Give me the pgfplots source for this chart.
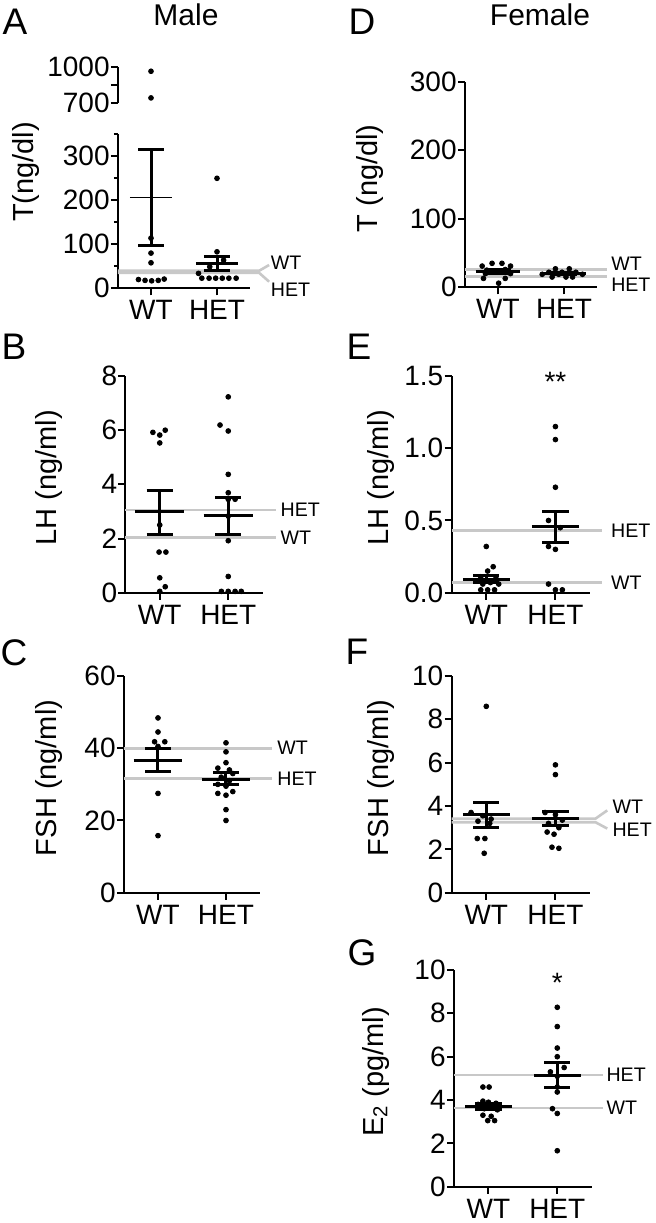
\documentclass[border=0pt]{standalone}
\usepackage{fontspec}
\setmainfont{Liberation Sans}
\usepackage{pgfplots}
\pgfplotsset{compat=1.18}
\definecolor{refgray}{RGB}{200,200,200}
\newcommand\lblfont{\fontsize{9.8}{11}\selectfont}
\newcommand\letfont{\fontsize{18.5}{20}\selectfont}
\tikzset{gl/.style={anchor=west, font=\lblfont, inner sep=0pt}}
\pgfplotsset{
  panel/.style={
    scale only axis,
    anchor=south west,
    xmin=-0.5, xmax=1.5,
    axis x line=bottom, axis y line=left,
    axis line style={-, line width=1pt},
    every tick/.style={black, line width=1pt},
    tick align=outside,
    major tick length=3.5pt,
    minor tick length=2pt,
    xtick={0,1}, xticklabels={WT,HET},
    tick label style={font=\fontsize{14}{15}\selectfont},
    yticklabel style={inner sep=0.5pt},
    xticklabel style={inner sep=1pt, yshift=-1.5pt},
    /pgf/number format/assume math mode=true,
    ylabel style={font=\fontsize{14.5}{16}\selectfont},
    clip=false,
    ymin=0,
  },
  dots/.style={only marks, mark=*, mark size=1.2pt, black},
  meanl/.style={black, line width=1.5pt},
  refl/.style={refgray, line width=1.3pt},
}
\begin{document}
\begin{tikzpicture}
\path[use as bounding box] (0,0) rectangle (328pt,-611.5pt);
\node[font=\fontsize{15}{17}\selectfont] at (93pt,-7.5pt) {Male};
\node[font=\fontsize{15}{17}\selectfont] at (270pt,-7.5pt) {Female};
\node[font=\letfont] at (7.5pt,-11pt) {A};
\node[font=\letfont] at (181pt,-11pt) {D};
\node[font=\letfont] at (7pt,-173.5pt) {B};
\node[font=\letfont] at (179.5pt,-173.5pt) {E};
\node[font=\letfont] at (7pt,-326.5pt) {C};
\node[font=\letfont] at (178.5pt,-326pt) {F};
\node[font=\letfont] at (181pt,-476.5pt) {G};

% ---------- A upper (broken axis) ----------
\begin{axis}[panel, at={(59pt,-51.65pt)}, width=66pt, height=18pt,
  ymin=700, ymax=1000, ytick={700,850,1000}, yticklabels={700,,1000},
  axis x line=none]
\addplot[dots] coordinates {(0,967) (0,745)};
\end{axis}

% ---------- A lower ----------
\begin{axis}[panel, at={(59pt,-144.15pt)}, width=66pt, height=77pt,
  ymax=350, ytick={0,100,200,300}, minor ytick={50,150,250,350},
  ylabel={T(ng/dl)}, ylabel style={at={(axis description cs:-0.7,0.755)}, anchor=center}]
\addplot[refl] coordinates {(-0.5,40) (1.64,40) (1.79,53)};
\addplot[refl] coordinates {(-0.5,35) (1.64,35) (1.79,15)};
\node[gl] at (axis cs:1.81,57) {WT};
\node[gl] at (axis cs:1.81,-4) {HET};
\addplot[dots] coordinates {(0,114) (0,80) (0,58) (-0.19,20) (-0.09,18) (0.01,17) (0.11,18) (0.2,21)};
\addplot[dots] coordinates {(1,250) (1,83) (1.1,64) (0.89,49) (0.72,34) (0.77,23) (0.88,23) (0.98,23) (1.08,23) (1.18,23) (1.29,23)};
\addplot[black, line width=0.8pt] coordinates {(-0.32,206) (0.32,206)};
\addplot[meanl] coordinates {(0,97) (0,316)};
\addplot[meanl] coordinates {(-0.19,316) (0.19,316)};
\addplot[meanl] coordinates {(-0.19,97) (0.19,97)};
\addplot[meanl] coordinates {(0.68,57) (1.32,57)};
\addplot[meanl] coordinates {(1,41) (1,72)};
\addplot[meanl] coordinates {(0.8,72) (1.2,72)};
\addplot[meanl] coordinates {(0.8,41) (1.2,41)};
\end{axis}

% ---------- D ----------
\begin{axis}[panel, at={(232.5pt,-143.65pt)}, width=66pt, height=102.8pt,
  ymax=300, ytick={0,100,200,300},
  ylabel={T (ng/dl)}, ylabel style={at={(axis description cs:-0.72,0.53)}, anchor=center}]
\addplot[refl] coordinates {(-0.5,26) (1.65,26)};
\addplot[refl] coordinates {(-0.5,15.5) (1.65,15.5)};
\node[gl] at (axis cs:1.71,35) {WT};
\node[gl] at (axis cs:1.71,3) {HET};
\addplot[dots] coordinates {(-0.09,35) (0.06,35) (-0.24,31) (0.19,31) (-0.17,25) (-0.04,24) (0.11,26) (-0.19,20) (0.19,20) (-0.22,13) (0.11,13) (0.01,6)};
\addplot[dots] coordinates {(0.87,27) (1.08,27) (0.77,22) (0.97,22) (1.18,22) (0.67,19) (0.92,19) (1.28,19) (0.82,15) (1.03,15) (1.13,15)};
\addplot[meanl] coordinates {(-0.34,23.25) (0.34,23.25)};
\addplot[meanl] coordinates {(0,20.5) (0,26)};
\addplot[meanl] coordinates {(-0.19,26) (0.19,26)};
\addplot[meanl] coordinates {(-0.19,20.5) (0.19,20.5)};
\addplot[meanl] coordinates {(0.66,19.5) (1.34,19.5)};
\addplot[meanl] coordinates {(1,18) (1,21)};
\addplot[meanl] coordinates {(0.81,21) (1.19,21)};
\addplot[meanl] coordinates {(0.81,18) (1.19,18)};
\end{axis}

% ---------- B ----------
\begin{axis}[panel, at={(62.75pt,-296.35pt)}, width=68.5pt, height=108.35pt,
  ymax=8, ytick={0,2,4,6,8},
  ylabel={LH (ng/ml)}, ylabel style={at={(axis description cs:-0.56,0.53)}, anchor=center}]
\addplot[refl] coordinates {(-0.5,3.05) (1.69,3.05)};
\addplot[refl] coordinates {(-0.5,2.03) (1.69,2.03)};
\node[gl] at (axis cs:1.76,3.05) {HET};
\node[gl] at (axis cs:1.76,2.03) {WT};
\addplot[dots] coordinates {(-0.1,5.92) (0,5.82) (0.08,6.0) (0,5.53) (0,2.5) (-0.01,1.5) (0.09,1.5) (0,0.55) (0.08,0.22) (0,0.05)};
\addplot[dots] coordinates {(1,7.23) (0.88,6.19) (1,5.97) (1,4.37) (1,3.69) (1.1,3.45) (1,3.45) (1,2.83) (1,1.92) (1,0.6) (0.9,0.05) (1,0.05) (1.1,0.05) (1.19,0.05)};
\addplot[meanl] coordinates {(-0.36,2.98) (0.36,2.98)};
\addplot[meanl] coordinates {(0,2.15) (0,3.77)};
\addplot[meanl] coordinates {(-0.19,3.77) (0.19,3.77)};
\addplot[meanl] coordinates {(-0.19,2.15) (0.19,2.15)};
\addplot[meanl] coordinates {(0.64,2.84) (1.36,2.84)};
\addplot[meanl] coordinates {(1,2.15) (1,3.52)};
\addplot[meanl] coordinates {(0.81,3.52) (1.19,3.52)};
\addplot[meanl] coordinates {(0.81,2.15) (1.19,2.15)};
\end{axis}

% ---------- E ----------
\begin{axis}[panel, at={(225.85pt,-296.35pt)}, width=69.15pt, height=108.35pt,
  ymax=1.5, ytick={0,0.5,1,1.5},
  yticklabel style={/pgf/number format/.cd, fixed, fixed zerofill, precision=1},
  ylabel={LH (ng/ml)}, ylabel style={at={(axis description cs:-0.51,0.53)}, anchor=center}]
\addplot[refl] coordinates {(-0.5,0.43) (1.67,0.43)};
\addplot[refl] coordinates {(-0.5,0.072) (1.67,0.072)};
\node[gl] at (axis cs:1.8,0.43) {HET};
\node[gl] at (axis cs:1.8,0.072) {WT};
\addplot[dots] coordinates {(0,0.32) (0.1,0.18) (0.02,0.15) (-0.08,0.11) (0.14,0.10) (-0.15,0.08) (0.06,0.07) (-0.05,0.06) (0.18,0.06) (-0.08,0.02) (0.02,0.02) (0.12,0.02)};
\addplot[dots] coordinates {(1,1.15) (1,1.06) (1,0.73) (0.9,0.5) (1.07,0.45) (0.9,0.32) (1,0.3) (0.9,0.06) (1,0.02) (1.1,0.02)};
\addplot[meanl] coordinates {(-0.34,0.09) (0.34,0.09)};
\addplot[meanl] coordinates {(0,0.07) (0,0.117)};
\addplot[meanl] coordinates {(-0.19,0.117) (0.19,0.117)};
\addplot[meanl] coordinates {(-0.19,0.07) (0.19,0.07)};
\addplot[meanl] coordinates {(0.66,0.46) (1.34,0.46)};
\addplot[meanl] coordinates {(1,0.35) (1,0.565)};
\addplot[meanl] coordinates {(0.81,0.565) (1.19,0.565)};
\addplot[meanl] coordinates {(0.81,0.35) (1.19,0.35)};
\node[font=\fontsize{14}{15}\selectfont] at (axis cs:1,1.46) {**};
\end{axis}

% ---------- C ----------
\begin{axis}[panel, at={(62pt,-446.35pt)}, width=68pt, height=108.35pt,
  ymax=60, ytick={0,20,40,60},
  ylabel={FSH (ng/ml)}, ylabel style={at={(axis description cs:-0.55,0.53)}, anchor=center}]
\addplot[refl] coordinates {(-0.5,40) (1.67,40)};
\addplot[refl] coordinates {(-0.5,31.6) (1.67,31.6)};
\node[gl] at (axis cs:1.75,40) {WT};
\node[gl] at (axis cs:1.75,31.6) {HET};
\addplot[dots] coordinates {(0,48.4) (0,44.5) (-0.05,41.8) (0.1,41.8) (0,40.5) (0,27.5) (0,15.8)};
\addplot[dots] coordinates {(1,41.5) (1,39) (1,36) (0.88,34.5) (1.05,34) (1.1,33) (0.93,32) (1.05,31) (0.88,30) (1,29.5) (1.1,28) (0.88,27.5) (1,27) (1,23) (1,20)};
\addplot[meanl] coordinates {(-0.36,36.7) (0.36,36.7)};
\addplot[meanl] coordinates {(0,33.5) (0,40)};
\addplot[meanl] coordinates {(-0.19,40) (0.19,40)};
\addplot[meanl] coordinates {(-0.19,33.5) (0.19,33.5)};
\addplot[meanl] coordinates {(0.64,31.4) (1.36,31.4)};
\addplot[meanl] coordinates {(1,30) (1,33.2)};
\addplot[meanl] coordinates {(0.81,33.2) (1.19,33.2)};
\addplot[meanl] coordinates {(0.81,30) (1.19,30)};
\end{axis}

% ---------- F ----------
\begin{axis}[panel, at={(225.85pt,-446.35pt)}, width=69.15pt, height=108.35pt,
  ymax=10, ytick={0,2,4,6,8,10},
  ylabel={FSH (ng/ml)}, ylabel style={at={(axis description cs:-0.51,0.53)}, anchor=center}]
\addplot[refl] coordinates {(-0.5,3.42) (1.58,3.42) (1.75,3.8)};
\addplot[refl] coordinates {(-0.5,3.25) (1.58,3.25) (1.75,2.96)};
\node[gl] at (axis cs:1.82,3.95) {WT};
\node[gl] at (axis cs:1.82,2.9) {HET};
\addplot[dots] coordinates {(0,8.6) (-0.22,3.7) (-0.05,3.55) (0.07,3.4) (-0.12,3.3) (0.05,3.2) (-0.13,2.5) (-0.02,2.5) (-0.03,1.82)};
\addplot[dots] coordinates {(1,5.9) (1,5.45) (0.85,3.7) (1,3.6) (1.1,3.35) (0.9,3.2) (1.05,3.0) (0.88,2.8) (0.98,2.7) (0.95,2.1) (1.05,2.05)};
\addplot[meanl] coordinates {(-0.34,3.6) (0.34,3.6)};
\addplot[meanl] coordinates {(0,3.0) (0,4.18)};
\addplot[meanl] coordinates {(-0.19,4.18) (0.19,4.18)};
\addplot[meanl] coordinates {(-0.19,3.0) (0.19,3.0)};
\addplot[meanl] coordinates {(0.66,3.42) (1.34,3.42)};
\addplot[meanl] coordinates {(1,3.1) (1,3.77)};
\addplot[meanl] coordinates {(0.81,3.77) (1.19,3.77)};
\addplot[meanl] coordinates {(0.81,3.1) (1.19,3.1)};
\end{axis}

% ---------- G ----------
\begin{axis}[panel, at={(227pt,-593.35pt)}, width=68.85pt, height=108.35pt,
  ymax=10, ytick={0,2,4,6,8,10},
  ylabel={E\textsubscript{2} (pg/ml)}, ylabel style={at={(axis description cs:-0.57,0.53)}, anchor=center}]
\addplot[refl] coordinates {(-0.5,5.15) (1.67,5.15)};
\addplot[refl] coordinates {(-0.5,3.63) (1.67,3.63)};
\node[gl] at (axis cs:1.71,5.15) {HET};
\node[gl] at (axis cs:1.71,3.63) {WT};
\addplot[dots] coordinates {(-0.08,4.6) (0.01,4.6) (-0.08,3.95) (0,3.9) (0.11,3.85) (-0.15,3.8) (0.06,3.75) (-0.06,3.6) (0.13,3.55) (-0.08,3.3) (0.04,3.25) (-0.01,3.05) (0.09,3.05)};
\addplot[dots] coordinates {(1,8.28) (1,7.39) (1,6.4) (1,6.0) (1.1,5.5) (0.9,5.3) (1,5.1) (1,4.6) (1,4.37) (0.93,3.6) (1,3.38) (1,1.66)};
\addplot[meanl] coordinates {(-0.34,3.7) (0.34,3.7)};
\addplot[meanl] coordinates {(0,3.55) (0,3.85)};
\addplot[meanl] coordinates {(-0.19,3.85) (0.19,3.85)};
\addplot[meanl] coordinates {(-0.19,3.55) (0.19,3.55)};
\addplot[meanl] coordinates {(0.66,5.15) (1.34,5.15)};
\addplot[meanl] coordinates {(1,4.6) (1,5.75)};
\addplot[meanl] coordinates {(0.81,5.75) (1.19,5.75)};
\addplot[meanl] coordinates {(0.81,4.6) (1.19,4.6)};
\node[font=\fontsize{14}{15}\selectfont] at (axis cs:1,9.4) {*};
\end{axis}
\end{tikzpicture}
\end{document}
